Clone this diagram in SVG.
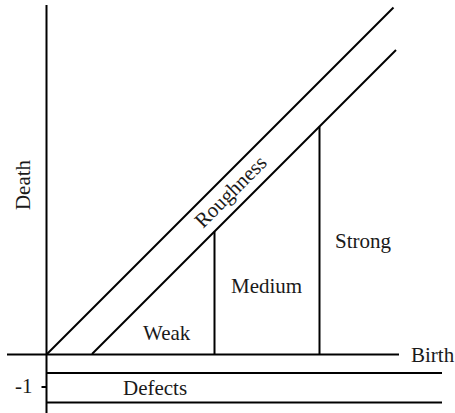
<svg xmlns="http://www.w3.org/2000/svg" width="455" height="413" viewBox="0 0 455 413">
<style>
.ln{stroke:#000;stroke-width:2;fill:none;stroke-linecap:butt}
.t{font-family:"Liberation Serif","Times New Roman",serif;font-size:21px;fill:#1a1a1a}
</style>
<rect width="455" height="413" fill="#fff"/>
<g id="connectors">
<line class="ln" x1="46.5" y1="5" x2="46.5" y2="413"/>
<line class="ln" x1="7" y1="354.5" x2="399" y2="354.5"/>
<line class="ln" x1="47" y1="373" x2="442" y2="373"/>
<line class="ln" x1="47" y1="402.5" x2="442" y2="402.5"/>
<line class="ln" x1="41.5" y1="387" x2="46.5" y2="387"/>
<line class="ln" x1="47" y1="354" x2="393.5" y2="7.5"/>
<line class="ln" x1="92" y1="354" x2="396" y2="50"/>
<line class="ln" x1="214.5" y1="354" x2="214.5" y2="231.5"/>
<line class="ln" x1="319.5" y1="354" x2="319.5" y2="126.5"/>
</g>
<g id="axis-death"><text class="t" transform="translate(30,185) rotate(-90)" text-anchor="middle">Death</text></g>
<g id="axis-birth"><text class="t" x="411" y="362">Birth</text></g>
<g id="tick-minus1"><text class="t" x="15" y="393">-1</text></g>
<g id="defects"><text class="t" x="123" y="395">Defects</text></g>
<g id="roughness"><text class="t" transform="translate(235.5,196.5) rotate(-45)" text-anchor="middle">Roughness</text></g>
<g id="weak"><text class="t" x="143" y="340">Weak</text></g>
<g id="medium"><text class="t" x="231" y="293">Medium</text></g>
<g id="strong"><text class="t" x="335" y="248">Strong</text></g>
</svg>
